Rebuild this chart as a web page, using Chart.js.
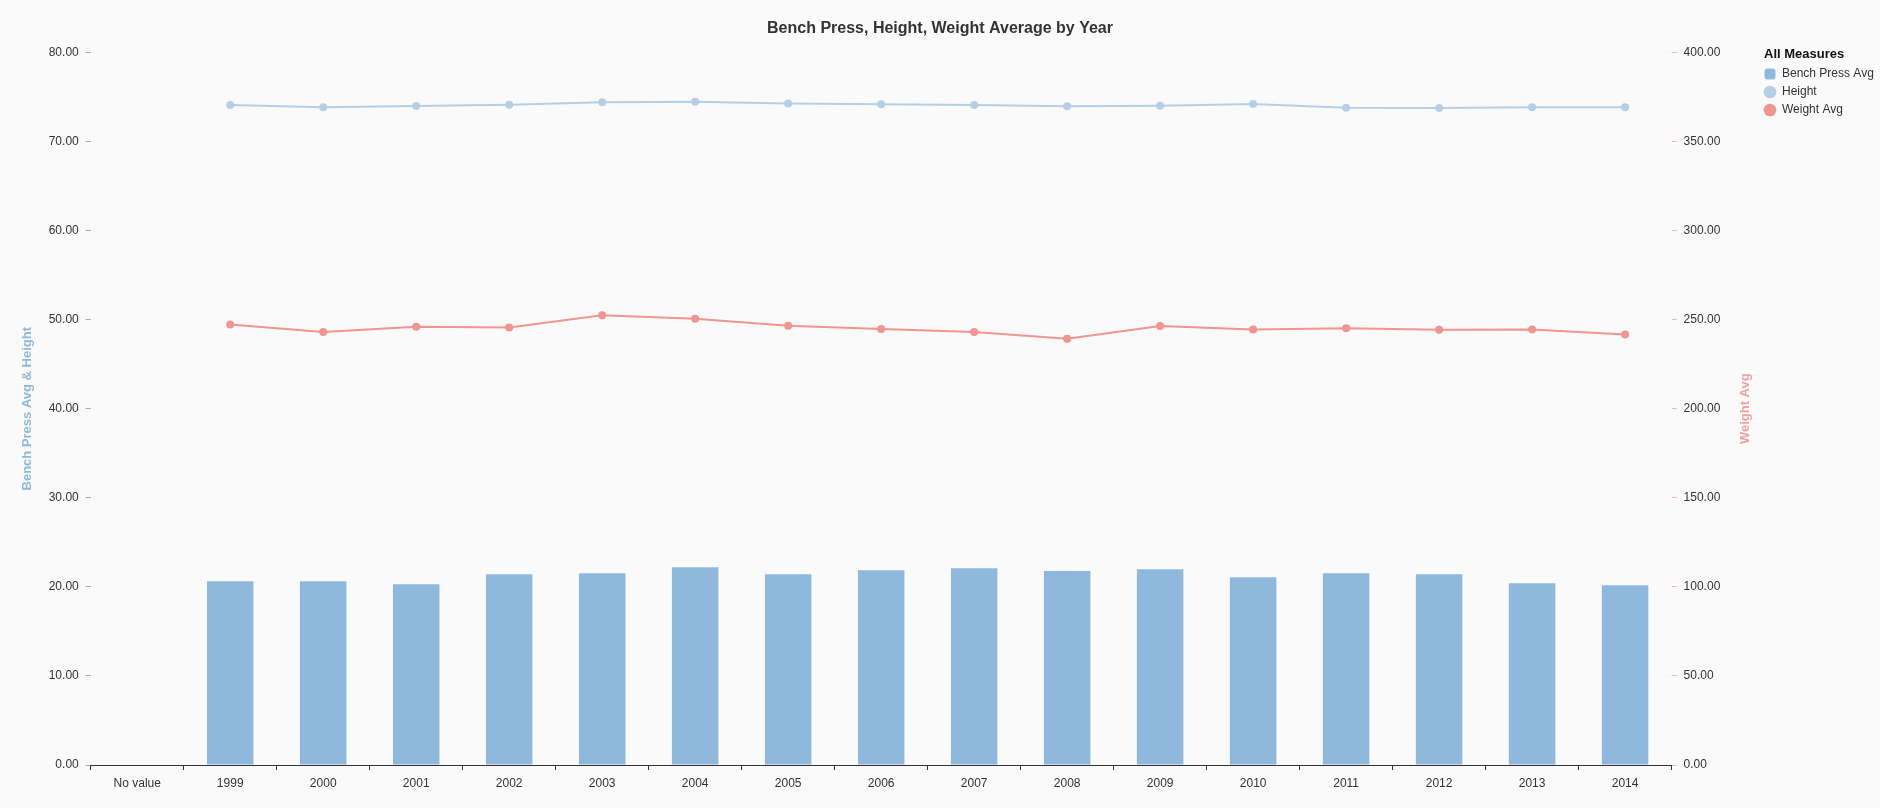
<!DOCTYPE html>
<html>
<head>
<meta charset="utf-8">
<script src="https://cdn.jsdelivr.net/npm/chart.js@4/dist/chart.umd.min.js"></script>
<style>
  html, body { margin: 0; padding: 0; background: #fafafa; }
  #wrap { width: 1880px; height: 808px; }
</style>
</head>
<body>
<div id="wrap"><canvas id="chart"></canvas></div>
<script>
var years = ["No value", "1999", "2000", "2001", "2002", "2003", "2004", "2005", "2006", "2007", "2008", "2009", "2010", "2011", "2012", "2013", "2014"]
var benchAvg = [null, 20.63, 20.63, 20.30, 21.42, 21.53, 22.21, 21.42, 21.87, 22.10, 21.79, 21.98, 21.08, 21.53, 21.42, 20.41, 20.19]
var heightAvg = [null, 74.10, 73.83, 73.99, 74.13, 74.39, 74.47, 74.25, 74.17, 74.10, 73.95, 74.02, 74.21, 73.80, 73.76, 73.83, 73.83]
var weightAvg = [null, 247.3, 243.0, 246.0, 245.6, 252.5, 250.5, 246.5, 244.7, 243.0, 239.2, 246.4, 244.5, 245.2, 244.3, 244.5, 241.7]

var fontFam = "'Liberation Sans', Arial, sans-serif"
Chart.defaults.font.family = fontFam
Chart.defaults.color = '#333'

// right axis title reads bottom-to-top like the left one,
// legend title lined up with the legend boxes
var extraText = {
    id: 'extraText',
    afterDraw: function (chart) {
        var s = chart.scales.y1
        var lg = chart.legend
        var ctx = chart.ctx
        ctx.save()
        ctx.translate(s.right - 5 - 7.8, (s.top + s.bottom) / 2)
        ctx.rotate(-Math.PI / 2)
        ctx.font = "bold 13px " + fontFam
        ctx.fillStyle = '#eea3a0'
        ctx.textAlign = 'center'
        ctx.textBaseline = 'middle'
        ctx.fillText('Weight Avg', 0, 0)
        ctx.restore()

        ctx.save()
        ctx.font = "bold 13px " + fontFam
        ctx.fillStyle = '#111'
        ctx.textAlign = 'left'
        ctx.textBaseline = 'middle'
        ctx.fillText('All Measures', lg.left + 6, lg.top + 54.3)
        ctx.restore()
    }
}

var ctx = document.getElementById("chart")

var chartGraph = new Chart(ctx, {
    type: 'bar',
    data: {
        labels: years,
        datasets: [{
            label: "Bench Press Avg",
            data: benchAvg,
            backgroundColor: '#8fb9dc',
            yAxisID: 'y',
            categoryPercentage: 1,
            barPercentage: 0.5,
            pointStyle: 'rectRounded',
            order: 3
        }, {
            type: 'line',
            label: "Height",
            data: heightAvg,
            borderColor: '#b5d0e6',
            backgroundColor: '#b5d0e6',
            borderWidth: 2,
            pointRadius: 4,
            pointBorderWidth: 0,
            pointStyle: 'circle',
            yAxisID: 'y',
            order: 1
        }, {
            type: 'line',
            label: "Weight Avg",
            data: weightAvg,
            borderColor: '#f0958f',
            backgroundColor: '#f0958f',
            borderWidth: 2,
            pointRadius: 4,
            pointBorderWidth: 0,
            pointStyle: 'circle',
            yAxisID: 'y1',
            order: 2
        }]
    },
    options: {
        responsive: true,
        maintainAspectRatio: false,
        animation: false,
        layout: { padding: { top: 0, left: 0, right: 0, bottom: 11.6 } },
        plugins: {
            title: {
                display: true,
                text: "Bench Press, Height, Weight Average by Year",
                font: { size: 16, weight: 'bold' },
                color: '#333',
                padding: { top: 18.6, bottom: 14.6 }
            },
            legend: {
                position: 'right',
                align: 'start',
                maxWidth: 122,
                title: {
                    display: true,
                    text: 'All Measures',
                    position: 'start',
                    color: 'transparent',
                    font: { size: 13, weight: 'bold' },
                    padding: { top: 47.8, bottom: -1.4 }
                },
                labels: {
                    usePointStyle: true,
                    boxWidth: 12,
                    boxHeight: 9,
                    padding: 6,
                    color: '#333',
                    font: { size: 12 },
                    sort: function (a, b) { return a.datasetIndex - b.datasetIndex }
                }
            },
            tooltip: { enabled: false }
        },
        scales: {
            x: {
                offset: true,
                grid: { offset: true, drawOnChartArea: false, tickLength: 5, color: '#333' },
                border: { display: true, color: '#333' },
                ticks: { padding: 6, font: { size: 12 }, color: '#333', maxRotation: 0 }
            },
            y: {
                position: 'left',
                min: 0,
                max: 80,
                ticks: {
                    stepSize: 10,
                    padding: 7,
                    font: { size: 12 },
                    color: '#333',
                    callback: function (v) { return v.toFixed(2) }
                },
                grid: { drawOnChartArea: false, tickLength: 5, color: '#aaa' },
                border: { display: false },
                title: {
                    display: true,
                    text: 'Bench Press Avg & Height',
                    color: '#8fb9dc',
                    font: { size: 13, weight: 'bold' },
                    padding: { top: 20, bottom: 6.1 }
                }
            },
            y1: {
                position: 'right',
                min: 0,
                max: 400,
                ticks: {
                    stepSize: 50,
                    padding: 7,
                    font: { size: 12 },
                    color: '#333',
                    callback: function (v) { return v.toFixed(2) }
                },
                grid: { drawOnChartArea: false, tickLength: 5, color: '#e8b4b2' },
                border: { display: false },
                title: {
                    display: true,
                    text: 'Weight Avg',
                    color: 'transparent',
                    font: { size: 13, weight: 'bold' },
                    padding: { top: 5, bottom: 10.1 }
                }
            }
        }
    },
    plugins: [extraText]
})
</script>
</body>
</html>
